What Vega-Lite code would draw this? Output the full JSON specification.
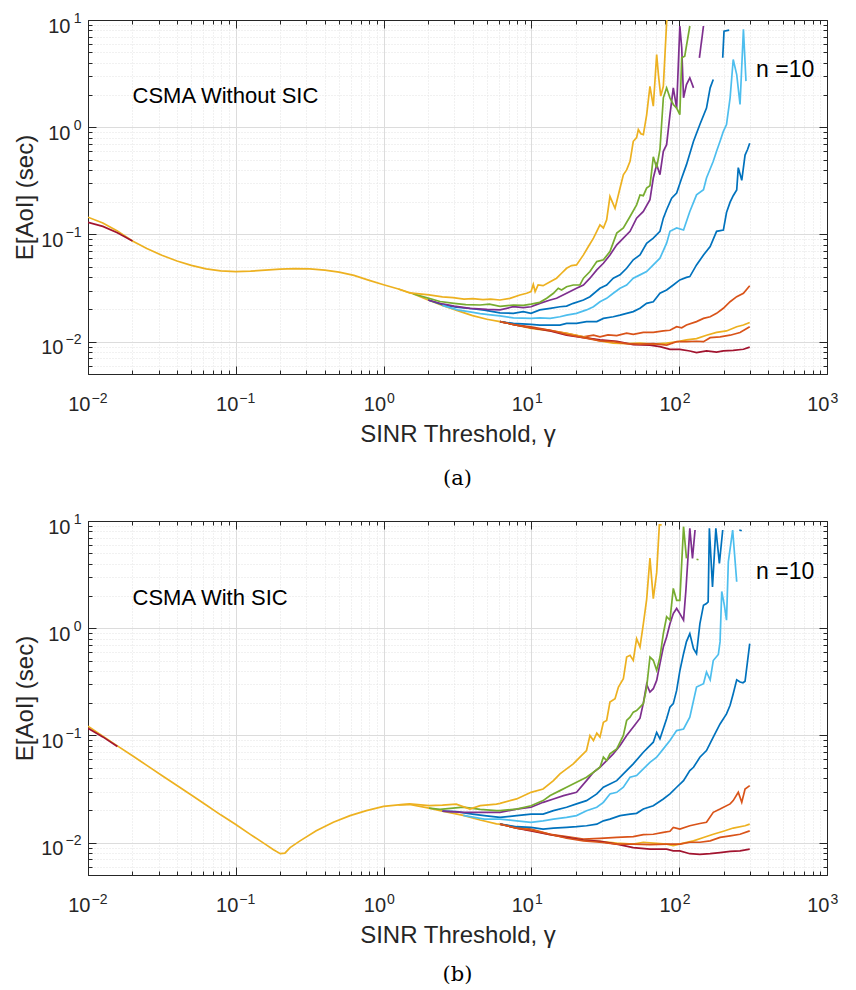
{
  "$schema": "https://vega.github.io/schema/vega-lite/v6.json",
  "padding": {"top": 10, "left": 13, "right": 0, "bottom": 0},
  "spacing": 21,
  "config": {
    "font": "Liberation Sans",
    "view": {"stroke": "#262626", "strokeWidth": 1},
    "axis": {"labelFont": "Liberation Sans", "labelFontSize": 20, "labelColor": "#262626", "titleFont": "Liberation Sans", "titleFontSize": 24, "titleFontWeight": "normal", "titleColor": "#262626", "domainColor": "#262626", "tickColor": "#262626", "labelOverlap": false, "labelFlush": false, "labelBound": false}
  },
  "datasets": {
    "a": [
      {"s":"c","x":0.01,"y":0.145},{"s":"c","x":0.0126,"y":0.128},{"s":"c","x":0.0158,"y":0.108},{"s":"c","x":0.02,"y":0.087},{"s":"c","x":0.025,"y":0.074},{"s":"c","x":0.0316,"y":0.064},{"s":"c","x":0.04,"y":0.0565},{"s":"c","x":0.05,"y":0.0515},{"s":"c","x":0.063,"y":0.0478},{"s":"c","x":0.079,"y":0.0458},{"s":"c","x":0.1,"y":0.045},{"s":"c","x":0.126,"y":0.0455},{"s":"c","x":0.158,"y":0.0465},{"s":"c","x":0.2,"y":0.0475},{"s":"c","x":0.25,"y":0.048},{"s":"c","x":0.316,"y":0.0478},{"s":"c","x":0.4,"y":0.0465},{"s":"c","x":0.5,"y":0.0445},{"s":"c","x":0.63,"y":0.0415},{"s":"c","x":0.79,"y":0.0375},{"s":"c","x":1.0,"y":0.034},{"s":"c","x":1.26,"y":0.031},{"s":"c","x":1.58,"y":0.028},{"s":"c","x":2.0,"y":0.0245},{"s":"c","x":2.5,"y":0.0218},{"s":"c","x":3.16,"y":0.0195},{"s":"c","x":4.0,"y":0.0175},{"s":"c","x":5.0,"y":0.0162},{"s":"c","x":6.13,"y":0.0154},
      {"s":"s01","x":2.0,"y":0.0245},{"s":"s01","x":2.5,"y":0.0222},{"s":"s01","x":3.1,"y":0.021},{"s":"s01","x":4.0,"y":0.0203},{"s":"s01","x":4.8,"y":0.0197},{"s":"s01","x":6.13,"y":0.0186},{"s":"s01","x":7.55,"y":0.0184},{"s":"s01","x":8.81,"y":0.0191},{"s":"s01","x":9.94,"y":0.0184},{"s":"s01","x":11.4,"y":0.0198},{"s":"s01","x":13.4,"y":0.0205},{"s":"s01","x":15.6,"y":0.0212},{"s":"s01","x":17.3,"y":0.0215},{"s":"s01","x":19.2,"y":0.0228},{"s":"s01","x":22.5,"y":0.0245},{"s":"s01","x":24.9,"y":0.0263},{"s":"s01","x":29.1,"y":0.0315},{"s":"s01","x":32.3,"y":0.0338},{"s":"s01","x":35.8,"y":0.0391},{"s":"s01","x":39.8,"y":0.042},{"s":"s01","x":44.1,"y":0.0484},{"s":"s01","x":48.9,"y":0.058},{"s":"s01","x":54.3,"y":0.0645},{"s":"s01","x":60.2,"y":0.0829},{"s":"s01","x":66.8,"y":0.0923},{"s":"s01","x":74.1,"y":0.107},{"s":"s01","x":78.1,"y":0.142},{"s":"s01","x":82.2,"y":0.17},{"s":"s01","x":88.9,"y":0.218},{"s":"s01","x":96.1,"y":0.243},{"s":"s01","x":104,"y":0.336},{"s":"s01","x":112,"y":0.448},{"s":"s01","x":125,"y":0.74},{"s":"s01","x":138,"y":1.06},{"s":"s01","x":153,"y":1.51},{"s":"s01","x":162,"y":2.33},{"s":"s01","x":170,"y":2.79},
      {"s":"s01","g":2,"x":197,"y":4.44},{"s":"s01","g":2,"x":201,"y":7.88},{"s":"s01","g":2,"x":218,"y":8.05},
      {"s":"s02","x":6.13,"y":0.0154},{"s":"s02","x":7.95,"y":0.0143},{"s":"s02","x":9.94,"y":0.0138},{"s":"s02","x":13.4,"y":0.0128},{"s":"s02","x":17.3,"y":0.012},{"s":"s02","x":22.5,"y":0.0111},{"s":"s02","x":26.3,"y":0.0115},{"s":"s02","x":29.1,"y":0.0111},{"s":"s02","x":33,"y":0.0116},{"s":"s02","x":37.8,"y":0.0114},{"s":"s02","x":44.1,"y":0.012},{"s":"s02","x":48.9,"y":0.0117},{"s":"s02","x":57.2,"y":0.0122},{"s":"s02","x":66.8,"y":0.0122},{"s":"s02","x":78.1,"y":0.0126},{"s":"s02","x":86.6,"y":0.0128},{"s":"s02","x":96.1,"y":0.0138},{"s":"s02","x":104,"y":0.0135},{"s":"s02","x":112,"y":0.0143},{"s":"s02","x":131,"y":0.0154},{"s":"s02","x":146,"y":0.0165},{"s":"s02","x":162,"y":0.0171},{"s":"s02","x":179,"y":0.0184},{"s":"s02","x":199,"y":0.0205},{"s":"s02","x":221,"y":0.0236},{"s":"s02","x":245,"y":0.0263},{"s":"s02","x":272,"y":0.0283},{"s":"s02","x":300,"y":0.0333},
      {"s":"s03","x":6.13,"y":0.0154},{"s":"s03","x":7.95,"y":0.0143},{"s":"s03","x":9.94,"y":0.0133},{"s":"s03","x":13.4,"y":0.0126},{"s":"s03","x":17.3,"y":0.012},{"s":"s03","x":22.5,"y":0.0111},{"s":"s03","x":29.1,"y":0.0102},{"s":"s03","x":35.8,"y":0.0097},{"s":"s03","x":44.1,"y":0.0096},{"s":"s03","x":54.3,"y":0.0097},{"s":"s03","x":66.8,"y":0.0095},{"s":"s03","x":82.2,"y":0.0097},{"s":"s03","x":96.1,"y":0.01},{"s":"s03","x":112,"y":0.0104},{"s":"s03","x":131,"y":0.0107},{"s":"s03","x":153,"y":0.0115},{"s":"s03","x":179,"y":0.0122},{"s":"s03","x":209,"y":0.0126},{"s":"s03","x":245,"y":0.0138},{"s":"s03","x":272,"y":0.0143},{"s":"s03","x":300,"y":0.0151},
      {"s":"s04","x":2.0,"y":0.0245},{"s":"s04","x":2.5,"y":0.0225},{"s":"s04","x":3.0,"y":0.0215},{"s":"s04","x":3.84,"y":0.0205},{"s":"s04","x":5.0,"y":0.02},{"s":"s04","x":6.13,"y":0.0198},{"s":"s04","x":7.55,"y":0.0212},{"s":"s04","x":8.81,"y":0.0208},{"s":"s04","x":9.94,"y":0.0212},{"s":"s04","x":11.4,"y":0.0228},{"s":"s04","x":13.4,"y":0.0245},{"s":"s04","x":14.8,"y":0.0254},{"s":"s04","x":17.3,"y":0.0283},{"s":"s04","x":20.2,"y":0.0315},{"s":"s04","x":22.5,"y":0.0338},{"s":"s04","x":24.9,"y":0.0391},{"s":"s04","x":27.7,"y":0.0467},{"s":"s04","x":30.7,"y":0.0539},{"s":"s04","x":34.0,"y":0.0645},{"s":"s04","x":37.8,"y":0.08},{"s":"s04","x":41.9,"y":0.0923},{"s":"s04","x":46.5,"y":0.107},{"s":"s04","x":51.5,"y":0.142},{"s":"s04","x":57.2,"y":0.164},{"s":"s04","x":63.4,"y":0.211},{"s":"s04","x":66.8,"y":0.336},{"s":"s04","x":70.4,"y":0.448},{"s":"s04","x":74.1,"y":0.361},{"s":"s04","x":78.1,"y":0.596},{"s":"s04","x":82.2,"y":0.688},{"s":"s04","x":86.6,"y":1.31},{"s":"s04","x":91.2,"y":2.33},{"s":"s04","x":96.1,"y":1.51},{"s":"s04","x":101,"y":8.79},{"s":"s04","x":104,"y":5.51},{"s":"s04","x":107,"y":1.88},{"s":"s04","x":112,"y":2.5},{"s":"s04","x":118,"y":2.89},{"s":"s04","x":125,"y":2.33},
      {"s":"s04","g":2,"x":137,"y":4.44},{"s":"s04","g":2,"x":146,"y":8.79},
      {"s":"s05","x":1.58,"y":0.028},{"s":"s05","x":2.0,"y":0.0255},{"s":"s05","x":2.41,"y":0.0237},{"s":"s05","x":3.0,"y":0.0228},{"s":"s05","x":3.6,"y":0.0222},{"s":"s05","x":4.49,"y":0.022},{"s":"s05","x":5.2,"y":0.0224},{"s":"s05","x":6.13,"y":0.0214},{"s":"s05","x":7.55,"y":0.022},{"s":"s05","x":8.81,"y":0.0218},{"s":"s05","x":9.94,"y":0.0224},{"s":"s05","x":11.4,"y":0.0233},{"s":"s05","x":12.7,"y":0.0254},{"s":"s05","x":14.1,"y":0.0283},{"s":"s05","x":15.2,"y":0.0315},{"s":"s05","x":16.0,"y":0.0304},{"s":"s05","x":17.3,"y":0.0326},{"s":"s05","x":19.2,"y":0.0338},{"s":"s05","x":21.3,"y":0.0338},{"s":"s05","x":22.5,"y":0.0391},{"s":"s05","x":24.9,"y":0.0451},{"s":"s05","x":27.7,"y":0.0559},{"s":"s05","x":30.7,"y":0.058},{"s":"s05","x":34.0,"y":0.0693},{"s":"s05","x":37.8,"y":0.103},{"s":"s05","x":41.9,"y":0.115},{"s":"s05","x":46.5,"y":0.147},{"s":"s05","x":51.5,"y":0.189},{"s":"s05","x":54.3,"y":0.234},{"s":"s05","x":57.2,"y":0.23},{"s":"s05","x":60.2,"y":0.271},{"s":"s05","x":63.4,"y":0.285},{"s":"s05","x":65.1,"y":0.388},{"s":"s05","x":66.8,"y":0.53},{"s":"s05","x":70.4,"y":0.42},{"s":"s05","x":74.1,"y":0.62},{"s":"s05","x":78.1,"y":1.88},{"s":"s05","x":82.2,"y":2.33},{"s":"s05","x":86.6,"y":1.88},{"s":"s05","x":91.2,"y":1.63},{"s":"s05","x":96.1,"y":1.51},{"s":"s05","x":101,"y":1.31},{"s":"s05","x":104,"y":4.44},{"s":"s05","x":109,"y":4.6},{"s":"s05","x":118,"y":8.79},
      {"s":"s06","x":2.5,"y":0.0218},{"s":"s06","x":3.16,"y":0.0198},{"s":"s06","x":3.84,"y":0.019},{"s":"s06","x":4.5,"y":0.0183},{"s":"s06","x":5.3,"y":0.0178},{"s":"s06","x":6.13,"y":0.0174},{"s":"s06","x":7.55,"y":0.0167},{"s":"s06","x":9.94,"y":0.0165},{"s":"s06","x":11.4,"y":0.0167},{"s":"s06","x":13.4,"y":0.0165},{"s":"s06","x":15.6,"y":0.0171},{"s":"s06","x":17.3,"y":0.0177},{"s":"s06","x":20.2,"y":0.0184},{"s":"s06","x":23.6,"y":0.0198},{"s":"s06","x":26.3,"y":0.0212},{"s":"s06","x":29.1,"y":0.0236},{"s":"s06","x":32.3,"y":0.0254},{"s":"s06","x":35.8,"y":0.0283},{"s":"s06","x":39.8,"y":0.0315},{"s":"s06","x":44.1,"y":0.0338},{"s":"s06","x":48.9,"y":0.0391},{"s":"s06","x":54.3,"y":0.042},{"s":"s06","x":60.2,"y":0.0451},{"s":"s06","x":66.8,"y":0.052},{"s":"s06","x":74.1,"y":0.0601},{"s":"s06","x":82.2,"y":0.0829},{"s":"s06","x":86.6,"y":0.107},{"s":"s06","x":96.1,"y":0.115},{"s":"s06","x":107,"y":0.11},{"s":"s06","x":118,"y":0.164},{"s":"s06","x":131,"y":0.234},{"s":"s06","x":146,"y":0.261},{"s":"s06","x":153,"y":0.336},{"s":"s06","x":170,"y":0.481},{"s":"s06","x":179,"y":0.596},{"s":"s06","x":189,"y":0.74},{"s":"s06","x":199,"y":0.917},{"s":"s06","x":209,"y":1.06},{"s":"s06","x":221,"y":1.88},{"s":"s06","x":232,"y":4.28},{"s":"s06","x":245,"y":3.1},{"s":"s06","x":258,"y":1.63},{"s":"s06","x":272,"y":8.17},{"s":"s06","x":283,"y":2.69},
      {"s":"s07","g":1,"x":0.01,"y":0.13},{"s":"s07","g":1,"x":0.0126,"y":0.119},{"s":"s07","g":1,"x":0.0158,"y":0.104},{"s":"s07","g":1,"x":0.02,"y":0.087},
      {"s":"s07","x":6.13,"y":0.0154},{"s":"s07","x":7.95,"y":0.0143},{"s":"s07","x":9.94,"y":0.0135},{"s":"s07","x":13.4,"y":0.0126},{"s":"s07","x":17.3,"y":0.0115},{"s":"s07","x":22.5,"y":0.0109},{"s":"s07","x":29.1,"y":0.0104},{"s":"s07","x":37.8,"y":0.0101},{"s":"s07","x":48.9,"y":0.0094},{"s":"s07","x":63.4,"y":0.0093},{"s":"s07","x":74.1,"y":0.009},{"s":"s07","x":86.6,"y":0.0085},{"s":"s07","x":101,"y":0.0085},{"s":"s07","x":118,"y":0.0082},{"s":"s07","x":131,"y":0.0079},{"s":"s07","x":153,"y":0.0082},{"s":"s07","x":179,"y":0.008},{"s":"s07","x":199,"y":0.0082},{"s":"s07","x":232,"y":0.0083},{"s":"s07","x":272,"y":0.0085},{"s":"s07","x":300,"y":0.0089},
      {"s":"s08","x":6.13,"y":0.0154},{"s":"s08","x":7.55,"y":0.0148},{"s":"s08","x":9.94,"y":0.0145},{"s":"s08","x":11.4,"y":0.0143},{"s":"s08","x":13.4,"y":0.0143},{"s":"s08","x":15.6,"y":0.0143},{"s":"s08","x":17.3,"y":0.0148},{"s":"s08","x":20.2,"y":0.0148},{"s":"s08","x":23.6,"y":0.0154},{"s":"s08","x":27.7,"y":0.0154},{"s":"s08","x":30.7,"y":0.0165},{"s":"s08","x":35.8,"y":0.0171},{"s":"s08","x":39.8,"y":0.0177},{"s":"s08","x":44.1,"y":0.0184},{"s":"s08","x":48.9,"y":0.0191},{"s":"s08","x":54.3,"y":0.0205},{"s":"s08","x":60.2,"y":0.0228},{"s":"s08","x":66.8,"y":0.0236},{"s":"s08","x":74.1,"y":0.0283},{"s":"s08","x":82.2,"y":0.0304},{"s":"s08","x":91.2,"y":0.0338},{"s":"s08","x":101,"y":0.0377},{"s":"s08","x":112,"y":0.0398},{"s":"s08","x":118,"y":0.0405},{"s":"s08","x":131,"y":0.052},{"s":"s08","x":146,"y":0.0645},{"s":"s08","x":162,"y":0.0772},{"s":"s08","x":179,"y":0.107},{"s":"s08","x":199,"y":0.11},{"s":"s08","x":209,"y":0.16},{"s":"s08","x":221,"y":0.2},{"s":"s08","x":232,"y":0.23},{"s":"s08","x":245,"y":0.26},{"s":"s08","x":251,"y":0.42},{"s":"s08","x":265,"y":0.32},{"s":"s08","x":279,"y":0.55},{"s":"s08","x":290,"y":0.62},{"s":"s08","x":300,"y":0.71},
      {"s":"s09","x":6.13,"y":0.0154},{"s":"s09","x":7.95,"y":0.0143},{"s":"s09","x":9.94,"y":0.0135},{"s":"s09","x":13.4,"y":0.0128},{"s":"s09","x":17.3,"y":0.0117},{"s":"s09","x":22.5,"y":0.0109},{"s":"s09","x":29.1,"y":0.0102},{"s":"s09","x":35.8,"y":0.01},{"s":"s09","x":44.1,"y":0.0096},{"s":"s09","x":54.3,"y":0.0095},{"s":"s09","x":66.8,"y":0.0096},{"s":"s09","x":82.2,"y":0.0093},{"s":"s09","x":96.1,"y":0.01},{"s":"s09","x":112,"y":0.01},{"s":"s09","x":131,"y":0.0101},{"s":"s09","x":146,"y":0.01},{"s":"s09","x":162,"y":0.0109},{"s":"s09","x":189,"y":0.0111},{"s":"s09","x":221,"y":0.0115},{"s":"s09","x":258,"y":0.0122},{"s":"s09","x":300,"y":0.0138},
      {"s":"s10","x":1.26,"y":0.031},{"s":"s10","x":1.5,"y":0.0285},{"s":"s10","x":2.03,"y":0.0273},{"s":"s10","x":2.5,"y":0.0262},{"s":"s10","x":2.95,"y":0.0258},{"s":"s10","x":3.5,"y":0.025},{"s":"s10","x":4.0,"y":0.0252},{"s":"s10","x":4.7,"y":0.0247},{"s":"s10","x":5.3,"y":0.025},{"s":"s10","x":6.13,"y":0.0245},{"s":"s10","x":7.16,"y":0.0254},{"s":"s10","x":8.37,"y":0.0273},{"s":"s10","x":9.29,"y":0.0283},{"s":"s10","x":9.94,"y":0.0293},{"s":"s10","x":10.3,"y":0.0343},{"s":"s10","x":10.6,"y":0.0293},{"s":"s10","x":11.1,"y":0.0338},{"s":"s10","x":12.0,"y":0.0333},{"s":"s10","x":13.4,"y":0.0363},{"s":"s10","x":14.8,"y":0.0391},{"s":"s10","x":16.0,"y":0.0435},{"s":"s10","x":17.3,"y":0.0484},{"s":"s10","x":18.7,"y":0.0513},{"s":"s10","x":20.2,"y":0.052},{"s":"s10","x":22.5,"y":0.0645},{"s":"s10","x":24.3,"y":0.0772},{"s":"s10","x":26.3,"y":0.0923},{"s":"s10","x":29.1,"y":0.123},{"s":"s10","x":30.7,"y":0.115},{"s":"s10","x":32.3,"y":0.137},{"s":"s10","x":34.0,"y":0.226},{"s":"s10","x":36.8,"y":0.175},{"s":"s10","x":39.8,"y":0.271},{"s":"s10","x":41.9,"y":0.36},{"s":"s10","x":44.1,"y":0.4},{"s":"s10","x":46.5,"y":0.481},{"s":"s10","x":48.9,"y":0.74},{"s":"s10","x":51.5,"y":0.8},{"s":"s10","x":52.9,"y":0.951},{"s":"s10","x":55,"y":0.87},{"s":"s10","x":57.2,"y":0.853},{"s":"s10","x":60.2,"y":1.3},{"s":"s10","x":63.4,"y":2.41},{"s":"s10","x":66.8,"y":1.57},{"s":"s10","x":70.4,"y":4.77},{"s":"s10","x":72.5,"y":3.0},{"s":"s10","x":75.0,"y":1.95},{"s":"s10","x":78.1,"y":2.41},{"s":"s10","x":82.2,"y":9.44},{"s":"s10","x":83.5,"y":12.1}
    ],
    "b": [
      {"s":"c","x":0.01,"y":0.122},{"s":"c","x":0.0126,"y":0.0987},{"s":"c","x":0.0158,"y":0.08},{"s":"c","x":0.02,"y":0.0646},{"s":"c","x":0.025,"y":0.0526},{"s":"c","x":0.0316,"y":0.0424},{"s":"c","x":0.04,"y":0.0342},{"s":"c","x":0.05,"y":0.0279},{"s":"c","x":0.063,"y":0.0225},{"s":"c","x":0.079,"y":0.0182},{"s":"c","x":0.1,"y":0.0148},{"s":"c","x":0.126,"y":0.0119},{"s":"c","x":0.158,"y":0.0097},{"s":"c","x":0.18,"y":0.0086},{"s":"c","x":0.2,"y":0.0079},{"s":"c","x":0.215,"y":0.008},{"s":"c","x":0.233,"y":0.009},{"s":"c","x":0.272,"y":0.0104},{"s":"c","x":0.35,"y":0.0129},{"s":"c","x":0.457,"y":0.0155},{"s":"c","x":0.593,"y":0.0179},{"s":"c","x":0.765,"y":0.0199},{"s":"c","x":1.0,"y":0.0218},{"s":"c","x":1.26,"y":0.0225},{"s":"c","x":1.5,"y":0.0227},{"s":"c","x":2.03,"y":0.021},{"s":"c","x":2.5,"y":0.0197},{"s":"c","x":3.46,"y":0.018},{"s":"c","x":4.5,"y":0.0163},{"s":"c","x":5.8,"y":0.015},{"s":"c","x":6.13,"y":0.0149},
      {"s":"s01","x":2.5,"y":0.0197},{"s":"s01","x":3.1,"y":0.0195},{"s":"s01","x":4.0,"y":0.0185},{"s":"s01","x":4.8,"y":0.0179},{"s":"s01","x":6.13,"y":0.0172},{"s":"s01","x":7.95,"y":0.0179},{"s":"s01","x":9.94,"y":0.0185},{"s":"s01","x":12.0,"y":0.0185},{"s":"s01","x":14.1,"y":0.0199},{"s":"s01","x":17.3,"y":0.0214},{"s":"s01","x":20.2,"y":0.023},{"s":"s01","x":23.6,"y":0.0247},{"s":"s01","x":27.7,"y":0.0285},{"s":"s01","x":30.7,"y":0.0329},{"s":"s01","x":34.0,"y":0.0353},{"s":"s01","x":37.8,"y":0.0379},{"s":"s01","x":41.9,"y":0.0438},{"s":"s01","x":48.9,"y":0.0543},{"s":"s01","x":57.2,"y":0.0698},{"s":"s01","x":66.8,"y":0.0866},{"s":"s01","x":70.4,"y":0.107},{"s":"s01","x":74.1,"y":0.0931},{"s":"s01","x":82.2,"y":0.143},{"s":"s01","x":86.6,"y":0.184},{"s":"s01","x":91.2,"y":0.198},{"s":"s01","x":96.1,"y":0.263},{"s":"s01","x":101,"y":0.4},{"s":"s01","x":107,"y":0.579},{"s":"s01","x":112,"y":0.75},{"s":"s01","x":118,"y":0.891},{"s":"s01","x":125,"y":0.645},{"s":"s01","x":131,"y":0.579},{"s":"s01","x":138,"y":1.1},{"s":"s01","x":146,"y":1.64},{"s":"s01","x":153,"y":1.7},{"s":"s01","x":157,"y":1.76},{"s":"s01","x":160,"y":8.54},{"s":"s01","x":168,"y":2.43},{"s":"s01","x":177,"y":8.54},{"s":"s01","x":187,"y":4.02},{"s":"s01","x":197,"y":8.24},
      {"s":"s01","g":2,"x":255,"y":8.24},{"s":"s01","g":2,"x":265,"y":8.12},
      {"s":"s02","x":6.13,"y":0.0149},{"s":"s02","x":7.95,"y":0.0139},{"s":"s02","x":9.94,"y":0.0134},{"s":"s02","x":13.4,"y":0.012},{"s":"s02","x":17.3,"y":0.0114},{"s":"s02","x":22.5,"y":0.0108},{"s":"s02","x":29.1,"y":0.011},{"s":"s02","x":37.8,"y":0.0112},{"s":"s02","x":48.9,"y":0.0114},{"s":"s02","x":57.2,"y":0.0119},{"s":"s02","x":66.8,"y":0.012},{"s":"s02","x":78.1,"y":0.0125},{"s":"s02","x":86.6,"y":0.0128},{"s":"s02","x":91.2,"y":0.0139},{"s":"s02","x":101,"y":0.0134},{"s":"s02","x":118,"y":0.0144},{"s":"s02","x":138,"y":0.0151},{"s":"s02","x":153,"y":0.0155},{"s":"s02","x":170,"y":0.0192},{"s":"s02","x":189,"y":0.0206},{"s":"s02","x":221,"y":0.023},{"s":"s02","x":232,"y":0.0247},{"s":"s02","x":251,"y":0.0295},{"s":"s02","x":265,"y":0.0238},{"s":"s02","x":279,"y":0.0317},{"s":"s02","x":300,"y":0.0341},
      {"s":"s03","x":6.13,"y":0.0149},{"s":"s03","x":7.95,"y":0.0137},{"s":"s03","x":9.94,"y":0.0131},{"s":"s03","x":13.4,"y":0.0119},{"s":"s03","x":17.3,"y":0.0112},{"s":"s03","x":22.5,"y":0.0106},{"s":"s03","x":29.1,"y":0.0103},{"s":"s03","x":37.8,"y":0.0099},{"s":"s03","x":48.9,"y":0.0097},{"s":"s03","x":57.2,"y":0.0101},{"s":"s03","x":66.8,"y":0.0099},{"s":"s03","x":82.2,"y":0.0097},{"s":"s03","x":91.2,"y":0.0094},{"s":"s03","x":107,"y":0.0099},{"s":"s03","x":125,"y":0.0104},{"s":"s03","x":146,"y":0.0112},{"s":"s03","x":170,"y":0.012},{"s":"s03","x":199,"y":0.0128},{"s":"s03","x":232,"y":0.0137},{"s":"s03","x":279,"y":0.0144},{"s":"s03","x":300,"y":0.0149},
      {"s":"s04","x":2.5,"y":0.0197},{"s":"s04","x":3.46,"y":0.0192},{"s":"s04","x":4.5,"y":0.0192},{"s":"s04","x":5.8,"y":0.0192},{"s":"s04","x":6.13,"y":0.0192},{"s":"s04","x":7.95,"y":0.0206},{"s":"s04","x":9.94,"y":0.0214},{"s":"s04","x":12.0,"y":0.0238},{"s":"s04","x":14.1,"y":0.0256},{"s":"s04","x":16.5,"y":0.0275},{"s":"s04","x":20.2,"y":0.0295},{"s":"s04","x":23.6,"y":0.0379},{"s":"s04","x":26.3,"y":0.0454},{"s":"s04","x":29.1,"y":0.0505},{"s":"s04","x":32.3,"y":0.0583},{"s":"s04","x":35.8,"y":0.0674},{"s":"s04","x":39.8,"y":0.0805},{"s":"s04","x":44.1,"y":0.1},{"s":"s04","x":48.9,"y":0.12},{"s":"s04","x":54.3,"y":0.145},{"s":"s04","x":57.2,"y":0.2},{"s":"s04","x":60.2,"y":0.3},{"s":"s04","x":63.4,"y":0.254},{"s":"s04","x":66.8,"y":0.273},{"s":"s04","x":70.4,"y":0.326},{"s":"s04","x":74.1,"y":0.467},{"s":"s04","x":78.1,"y":0.668},{"s":"s04","x":82.2,"y":0.83},{"s":"s04","x":86.6,"y":1.1},{"s":"s04","x":91.2,"y":1.37},{"s":"s04","x":96.1,"y":1.53},{"s":"s04","x":101,"y":1.37},{"s":"s04","x":107,"y":1.19},{"s":"s04","x":111,"y":2.26},{"s":"s04","x":118,"y":8.54},{"s":"s04","x":123,"y":4.48},{"s":"s04","x":128,"y":8.24},
      {"s":"s05","x":2.03,"y":0.021},{"s":"s05","x":2.41,"y":0.0205},{"s":"s05","x":3.46,"y":0.0215},{"s":"s05","x":4.5,"y":0.0205},{"s":"s05","x":5.8,"y":0.0199},{"s":"s05","x":6.13,"y":0.0199},{"s":"s05","x":7.95,"y":0.0206},{"s":"s05","x":9.94,"y":0.0221},{"s":"s05","x":12.0,"y":0.0247},{"s":"s05","x":13.4,"y":0.0275},{"s":"s05","x":15.6,"y":0.0306},{"s":"s05","x":17.3,"y":0.0329},{"s":"s05","x":20.2,"y":0.0366},{"s":"s05","x":23.6,"y":0.0408},{"s":"s05","x":26.3,"y":0.0454},{"s":"s05","x":29.1,"y":0.0505},{"s":"s05","x":30.7,"y":0.0627},{"s":"s05","x":32.3,"y":0.0583},{"s":"s05","x":34.0,"y":0.0674},{"s":"s05","x":37.8,"y":0.075},{"s":"s05","x":41.9,"y":0.1},{"s":"s05","x":44.1,"y":0.138},{"s":"s05","x":46.5,"y":0.148},{"s":"s05","x":48.9,"y":0.165},{"s":"s05","x":51.5,"y":0.171},{"s":"s05","x":54.3,"y":0.184},{"s":"s05","x":57.2,"y":0.198},{"s":"s05","x":60.2,"y":0.28},{"s":"s05","x":63.4,"y":0.539},{"s":"s05","x":66.8,"y":0.502},{"s":"s05","x":70.4,"y":0.405},{"s":"s05","x":74.1,"y":0.539},{"s":"s05","x":78.1,"y":0.891},{"s":"s05","x":82.2,"y":1.28},{"s":"s05","x":86.6,"y":1.19},{"s":"s05","x":91.2,"y":2.35},{"s":"s05","x":96.1,"y":1.82},{"s":"s05","x":101,"y":1.82},{"s":"s05","x":107,"y":8.85},{"s":"s05","x":112,"y":4.48},
      {"s":"s05","g":2,"x":131,"y":4.4},{"s":"s05","g":2,"x":135,"y":4.35},
      {"s":"s06","x":3.46,"y":0.018},{"s":"s06","x":4.8,"y":0.0166},{"s":"s06","x":6.13,"y":0.0166},{"s":"s06","x":7.95,"y":0.016},{"s":"s06","x":9.94,"y":0.0155},{"s":"s06","x":12.0,"y":0.016},{"s":"s06","x":14.1,"y":0.0166},{"s":"s06","x":17.3,"y":0.0172},{"s":"s06","x":20.2,"y":0.0179},{"s":"s06","x":23.6,"y":0.0199},{"s":"s06","x":27.7,"y":0.0214},{"s":"s06","x":30.7,"y":0.0238},{"s":"s06","x":34.0,"y":0.0285},{"s":"s06","x":37.8,"y":0.0295},{"s":"s06","x":41.9,"y":0.0329},{"s":"s06","x":46.5,"y":0.0408},{"s":"s06","x":51.5,"y":0.0423},{"s":"s06","x":57.2,"y":0.0488},{"s":"s06","x":63.4,"y":0.0562},{"s":"s06","x":70.4,"y":0.0627},{"s":"s06","x":78.1,"y":0.075},{"s":"s06","x":86.6,"y":0.0898},{"s":"s06","x":96.1,"y":0.111},{"s":"s06","x":107,"y":0.115},{"s":"s06","x":118,"y":0.148},{"s":"s06","x":131,"y":0.283},{"s":"s06","x":146,"y":0.304},{"s":"s06","x":153,"y":0.391},{"s":"s06","x":162,"y":0.33},{"s":"s06","x":170,"y":0.5},{"s":"s06","x":184,"y":0.57},{"s":"s06","x":189,"y":0.75},{"s":"s06","x":194,"y":2.2},{"s":"s06","x":202,"y":1.64},{"s":"s06","x":209,"y":1.19},{"s":"s06","x":215,"y":4.17},{"s":"s06","x":230,"y":8.24},{"s":"s06","x":245,"y":2.71},
      {"s":"s07","g":1,"x":0.01,"y":0.117},{"s":"s07","g":1,"x":0.0126,"y":0.097},{"s":"s07","g":1,"x":0.0158,"y":0.079},
      {"s":"s07","x":6.13,"y":0.0149},{"s":"s07","x":7.95,"y":0.0137},{"s":"s07","x":9.94,"y":0.0129},{"s":"s07","x":13.4,"y":0.0119},{"s":"s07","x":17.3,"y":0.0112},{"s":"s07","x":22.5,"y":0.0106},{"s":"s07","x":29.1,"y":0.0103},{"s":"s07","x":37.8,"y":0.0097},{"s":"s07","x":48.9,"y":0.009},{"s":"s07","x":63.4,"y":0.0087},{"s":"s07","x":82.2,"y":0.0087},{"s":"s07","x":91.2,"y":0.0084},{"s":"s07","x":101,"y":0.0084},{"s":"s07","x":118,"y":0.0079},{"s":"s07","x":138,"y":0.0078},{"s":"s07","x":162,"y":0.0079},{"s":"s07","x":189,"y":0.0081},{"s":"s07","x":221,"y":0.0083},{"s":"s07","x":258,"y":0.0084},{"s":"s07","x":300,"y":0.0087},
      {"s":"s08","x":6.13,"y":0.0149},{"s":"s08","x":7.95,"y":0.0141},{"s":"s08","x":9.94,"y":0.0139},{"s":"s08","x":12.0,"y":0.0134},{"s":"s08","x":14.1,"y":0.0137},{"s":"s08","x":17.3,"y":0.0139},{"s":"s08","x":20.2,"y":0.0141},{"s":"s08","x":23.6,"y":0.0144},{"s":"s08","x":27.7,"y":0.0149},{"s":"s08","x":30.7,"y":0.016},{"s":"s08","x":34.0,"y":0.0166},{"s":"s08","x":39.8,"y":0.0179},{"s":"s08","x":46.5,"y":0.0185},{"s":"s08","x":51.5,"y":0.0188},{"s":"s08","x":57.2,"y":0.0206},{"s":"s08","x":66.8,"y":0.0221},{"s":"s08","x":78.1,"y":0.0256},{"s":"s08","x":86.6,"y":0.0285},{"s":"s08","x":96.1,"y":0.0329},{"s":"s08","x":107,"y":0.0379},{"s":"s08","x":118,"y":0.0471},{"s":"s08","x":125,"y":0.0505},{"s":"s08","x":138,"y":0.0627},{"s":"s08","x":153,"y":0.0724},{"s":"s08","x":170,"y":0.0965},{"s":"s08","x":189,"y":0.128},{"s":"s08","x":209,"y":0.159},{"s":"s08","x":221,"y":0.191},{"s":"s08","x":232,"y":0.245},{"s":"s08","x":245,"y":0.33},{"s":"s08","x":258,"y":0.315},{"s":"s08","x":270,"y":0.31},{"s":"s08","x":279,"y":0.32},{"s":"s08","x":300,"y":0.72},
      {"s":"s09","x":6.13,"y":0.0149},{"s":"s09","x":7.95,"y":0.0137},{"s":"s09","x":9.94,"y":0.0131},{"s":"s09","x":13.4,"y":0.012},{"s":"s09","x":17.3,"y":0.011},{"s":"s09","x":22.5,"y":0.0104},{"s":"s09","x":29.1,"y":0.0101},{"s":"s09","x":37.8,"y":0.0097},{"s":"s09","x":48.9,"y":0.0097},{"s":"s09","x":63.4,"y":0.0096},{"s":"s09","x":82.2,"y":0.0097},{"s":"s09","x":101,"y":0.0097},{"s":"s09","x":118,"y":0.0101},{"s":"s09","x":138,"y":0.0101},{"s":"s09","x":162,"y":0.0104},{"s":"s09","x":189,"y":0.0112},{"s":"s09","x":221,"y":0.0116},{"s":"s09","x":258,"y":0.012},{"s":"s09","x":300,"y":0.0129},
      {"s":"s10","x":1.26,"y":0.0225},{"s":"s10","x":1.5,"y":0.023},{"s":"s10","x":2.03,"y":0.0222},{"s":"s10","x":2.5,"y":0.0224},{"s":"s10","x":3.1,"y":0.0229},{"s":"s10","x":3.84,"y":0.0206},{"s":"s10","x":4.5,"y":0.0222},{"s":"s10","x":5.8,"y":0.0229},{"s":"s10","x":6.13,"y":0.0233},{"s":"s10","x":7.95,"y":0.0256},{"s":"s10","x":9.94,"y":0.0295},{"s":"s10","x":12.0,"y":0.0317},{"s":"s10","x":14.1,"y":0.0379},{"s":"s10","x":15.6,"y":0.0438},{"s":"s10","x":17.3,"y":0.0488},{"s":"s10","x":19.2,"y":0.0543},{"s":"s10","x":21.3,"y":0.0627},{"s":"s10","x":23.6,"y":0.0724},{"s":"s10","x":24.9,"y":0.1},{"s":"s10","x":26.3,"y":0.0898},{"s":"s10","x":27.7,"y":0.105},{"s":"s10","x":29.1,"y":0.0965},{"s":"s10","x":30.7,"y":0.133},{"s":"s10","x":32.3,"y":0.138},{"s":"s10","x":34.0,"y":0.205},{"s":"s10","x":36.8,"y":0.22},{"s":"s10","x":38.8,"y":0.283},{"s":"s10","x":41.9,"y":0.338},{"s":"s10","x":44.1,"y":0.539},{"s":"s10","x":46.5,"y":0.559},{"s":"s10","x":48.9,"y":0.502},{"s":"s10","x":51.5,"y":0.8},{"s":"s10","x":54.3,"y":0.668},{"s":"s10","x":57.2,"y":1.1},{"s":"s10","x":60.2,"y":1.85},{"s":"s10","x":63.4,"y":4.5},{"s":"s10","x":66.8,"y":1.89},{"s":"s10","x":70.4,"y":3.3},{"s":"s10","x":73.4,"y":9.2},{"s":"s10","x":76.1,"y":9.2}
    ]
  },
  "vconcat": [
    {
      "width": 739, "height": 354,
      "title": {"text": "(a)", "orient": "bottom", "font": "DejaVu Serif", "fontSize": 21, "fontWeight": "normal", "color": "#000000", "offset": 22},
      "layer": [
        {
          "data": {"name": "a"},
          "mark": {"type": "line", "clip": true, "strokeWidth": 1.7},
          "encoding": {
            "x": {"field": "x", "type": "quantitative", "scale": {"type": "log", "domain": [0.01, 1000], "nice": false},
              "axis": {"orient": "bottom", "values": [0.01,0.02,0.03,0.04,0.05,0.06,0.07,0.08,0.09,0.1,0.2,0.3,0.4,0.5,0.6,0.7,0.8,0.9,1,2,3,4,5,6,7,8,9,10,20,30,40,50,60,70,80,90,100,200,300,400,500,600,700,800,900,1000],
                "labelExpr": "abs(log(datum.value)/LN10-round(log(datum.value)/LN10))<0.001 ? '10' : ''",
                "labelAlign": "right", "labelBaseline": "alphabetic", "labelOffset": 2, "labelPadding": 44,
                "grid": true,
                "gridColor": {"condition": {"test": "abs(log(datum.value)/LN10-round(log(datum.value)/LN10))<0.001", "value": "#dcdcdc"}, "value": "#e2e2e2"},
                "gridDash": {"condition": {"test": "abs(log(datum.value)/LN10-round(log(datum.value)/LN10))<0.001", "value": []}, "value": [1, 2]},
                "tickSize": {"condition": {"test": "abs(log(datum.value)/LN10-round(log(datum.value)/LN10))<0.001", "value": -8}, "value": -4},
                "title": "SINR Threshold, γ", "titlePadding": 4}},
            "y": {"field": "y", "type": "quantitative", "scale": {"type": "log", "domain": [0.005, 10], "nice": false},
              "axis": {"orient": "left", "values": [0.005,0.006,0.007,0.008,0.009,0.01,0.02,0.03,0.04,0.05,0.06,0.07,0.08,0.09,0.1,0.2,0.3,0.4,0.5,0.6,0.7,0.8,0.9,1,2,3,4,5,6,7,8,9,10],
                "labelExpr": "abs(log(datum.value)/LN10-round(log(datum.value)/LN10))<0.001 ? '10' : ''",
                "labelAlign": "right", "labelBaseline": "middle", "labelOffset": 6,
                "labelPadding": {"condition": {"test": "datum.value < 0.5", "value": 33}, "value": 26},
                "grid": true,
                "gridColor": {"condition": {"test": "abs(log(datum.value)/LN10-round(log(datum.value)/LN10))<0.001", "value": "#dcdcdc"}, "value": "#e2e2e2"},
                "gridDash": {"condition": {"test": "abs(log(datum.value)/LN10-round(log(datum.value)/LN10))<0.001", "value": []}, "value": [1, 2]},
                "tickSize": {"condition": {"test": "abs(log(datum.value)/LN10-round(log(datum.value)/LN10))<0.001", "value": -8}, "value": -4},
                "title": "E[AoI] (sec)", "titlePadding": 3}},
            "color": {"field": "s", "type": "nominal", "legend": null,
              "scale": {"domain": ["c","s01","s02","s03","s04","s05","s06","s07","s08","s09","s10"], "range": ["#EDB120","#0072BD","#D95319","#EDB120","#7E2F8E","#77AC30","#4DBEEE","#A2142F","#0072BD","#D95319","#EDB120"]}},
            "detail": {"field": "g", "type": "nominal"}
          }
        },
        {
          "data": {"values": [{"x": 0.02, "y": 1.96, "t": "CSMA Without SIC", "f": 22}, {"x": 331, "y": 3.44, "t": "n =10", "f": 23}]},
          "mark": {"type": "text", "align": "left", "baseline": "middle", "color": "#000000", "font": "Liberation Sans"},
          "encoding": {
            "x": {"field": "x", "type": "quantitative", "scale": {"type": "log", "domain": [0.01, 1000], "nice": false},
              "axis": {"orient": "top", "values": [0.01,0.02,0.03,0.04,0.05,0.06,0.07,0.08,0.09,0.1,0.2,0.3,0.4,0.5,0.6,0.7,0.8,0.9,1,2,3,4,5,6,7,8,9,10,20,30,40,50,60,70,80,90,100,200,300,400,500,600,700,800,900,1000], "labels": false, "grid": false, "title": null,
                "tickSize": {"condition": {"test": "abs(log(datum.value)/LN10-round(log(datum.value)/LN10))<0.001", "value": -8}, "value": -4}}},
            "y": {"field": "y", "type": "quantitative", "scale": {"type": "log", "domain": [0.005, 10], "nice": false},
              "axis": {"orient": "right", "values": [0.005,0.006,0.007,0.008,0.009,0.01,0.02,0.03,0.04,0.05,0.06,0.07,0.08,0.09,0.1,0.2,0.3,0.4,0.5,0.6,0.7,0.8,0.9,1,2,3,4,5,6,7,8,9,10], "labels": false, "grid": false, "title": null,
                "tickSize": {"condition": {"test": "abs(log(datum.value)/LN10-round(log(datum.value)/LN10))<0.001", "value": -8}, "value": -4}}},
            "text": {"field": "t"},
            "size": {"field": "f", "type": "quantitative", "scale": null}
          }
        },
        {
          "data": {"values": [{"x": 1, "y": 1}]},
          "mark": {"type": "point", "opacity": 0},
          "encoding": {
            "x": {"field": "x", "type": "quantitative", "scale": {"type": "log", "domain": [0.01, 1000], "nice": false},
              "axis": {"orient": "bottom", "values": [0.01, 0.1, 1, 10, 100, 1000], "labelExpr": "['−3','−2','−1','0','1','2','3'][round(log(datum.value)/LN10)+3]",
                "labelFontSize": 14, "labelAlign": "left", "labelBaseline": "alphabetic", "labelOffset": 3, "labelPadding": 28,
                "ticks": true, "tickSize": 0, "tickOpacity": 0, "domain": false, "grid": false, "title": null}},
            "y": {"field": "y", "type": "quantitative", "scale": {"type": "log", "domain": [0.005, 10], "nice": false},
              "axis": {"orient": "left", "values": [0.01, 0.1, 1, 10], "labelExpr": "['−3','−2','−1','0','1','2','3'][round(log(datum.value)/LN10)+3]",
                "labelFontSize": 14, "labelAlign": "right", "labelBaseline": "middle", "labelOffset": -2, "labelPadding": 7,
                "ticks": true, "tickSize": 0, "tickOpacity": 0, "domain": false, "grid": false, "title": null}}
          }
        }
      ],
      "resolve": {"axis": {"x": "independent", "y": "independent"}}
    },
    {
      "width": 739, "height": 354,
      "title": {"text": "(b)", "orient": "bottom", "font": "DejaVu Serif", "fontSize": 21, "fontWeight": "normal", "color": "#000000", "offset": 17},
      "layer": [
        {
          "data": {"name": "b"},
          "mark": {"type": "line", "clip": true, "strokeWidth": 1.7},
          "encoding": {
            "x": {"field": "x", "type": "quantitative", "scale": {"type": "log", "domain": [0.01, 1000], "nice": false},
              "axis": {"orient": "bottom", "values": [0.01,0.02,0.03,0.04,0.05,0.06,0.07,0.08,0.09,0.1,0.2,0.3,0.4,0.5,0.6,0.7,0.8,0.9,1,2,3,4,5,6,7,8,9,10,20,30,40,50,60,70,80,90,100,200,300,400,500,600,700,800,900,1000],
                "labelExpr": "abs(log(datum.value)/LN10-round(log(datum.value)/LN10))<0.001 ? '10' : ''",
                "labelAlign": "right", "labelBaseline": "alphabetic", "labelOffset": 2, "labelPadding": 44,
                "grid": true,
                "gridColor": {"condition": {"test": "abs(log(datum.value)/LN10-round(log(datum.value)/LN10))<0.001", "value": "#dcdcdc"}, "value": "#e2e2e2"},
                "gridDash": {"condition": {"test": "abs(log(datum.value)/LN10-round(log(datum.value)/LN10))<0.001", "value": []}, "value": [1, 2]},
                "tickSize": {"condition": {"test": "abs(log(datum.value)/LN10-round(log(datum.value)/LN10))<0.001", "value": -8}, "value": -4},
                "title": "SINR Threshold, γ", "titlePadding": 4}},
            "y": {"field": "y", "type": "quantitative", "scale": {"type": "log", "domain": [0.005, 10], "nice": false},
              "axis": {"orient": "left", "values": [0.005,0.006,0.007,0.008,0.009,0.01,0.02,0.03,0.04,0.05,0.06,0.07,0.08,0.09,0.1,0.2,0.3,0.4,0.5,0.6,0.7,0.8,0.9,1,2,3,4,5,6,7,8,9,10],
                "labelExpr": "abs(log(datum.value)/LN10-round(log(datum.value)/LN10))<0.001 ? '10' : ''",
                "labelAlign": "right", "labelBaseline": "middle", "labelOffset": 6,
                "labelPadding": {"condition": {"test": "datum.value < 0.5", "value": 33}, "value": 26},
                "grid": true,
                "gridColor": {"condition": {"test": "abs(log(datum.value)/LN10-round(log(datum.value)/LN10))<0.001", "value": "#dcdcdc"}, "value": "#e2e2e2"},
                "gridDash": {"condition": {"test": "abs(log(datum.value)/LN10-round(log(datum.value)/LN10))<0.001", "value": []}, "value": [1, 2]},
                "tickSize": {"condition": {"test": "abs(log(datum.value)/LN10-round(log(datum.value)/LN10))<0.001", "value": -8}, "value": -4},
                "title": "E[AoI] (sec)", "titlePadding": 3}},
            "color": {"field": "s", "type": "nominal", "legend": null,
              "scale": {"domain": ["c","s01","s02","s03","s04","s05","s06","s07","s08","s09","s10"], "range": ["#EDB120","#0072BD","#D95319","#EDB120","#7E2F8E","#77AC30","#4DBEEE","#A2142F","#0072BD","#D95319","#EDB120"]}},
            "detail": {"field": "g", "type": "nominal"}
          }
        },
        {
          "data": {"values": [{"x": 0.02, "y": 1.93, "t": "CSMA With SIC", "f": 22}, {"x": 331, "y": 3.36, "t": "n =10", "f": 23}]},
          "mark": {"type": "text", "align": "left", "baseline": "middle", "color": "#000000", "font": "Liberation Sans"},
          "encoding": {
            "x": {"field": "x", "type": "quantitative", "scale": {"type": "log", "domain": [0.01, 1000], "nice": false},
              "axis": {"orient": "top", "values": [0.01,0.02,0.03,0.04,0.05,0.06,0.07,0.08,0.09,0.1,0.2,0.3,0.4,0.5,0.6,0.7,0.8,0.9,1,2,3,4,5,6,7,8,9,10,20,30,40,50,60,70,80,90,100,200,300,400,500,600,700,800,900,1000], "labels": false, "grid": false, "title": null,
                "tickSize": {"condition": {"test": "abs(log(datum.value)/LN10-round(log(datum.value)/LN10))<0.001", "value": -8}, "value": -4}}},
            "y": {"field": "y", "type": "quantitative", "scale": {"type": "log", "domain": [0.005, 10], "nice": false},
              "axis": {"orient": "right", "values": [0.005,0.006,0.007,0.008,0.009,0.01,0.02,0.03,0.04,0.05,0.06,0.07,0.08,0.09,0.1,0.2,0.3,0.4,0.5,0.6,0.7,0.8,0.9,1,2,3,4,5,6,7,8,9,10], "labels": false, "grid": false, "title": null,
                "tickSize": {"condition": {"test": "abs(log(datum.value)/LN10-round(log(datum.value)/LN10))<0.001", "value": -8}, "value": -4}}},
            "text": {"field": "t"},
            "size": {"field": "f", "type": "quantitative", "scale": null}
          }
        },
        {
          "data": {"values": [{"x": 1, "y": 1}]},
          "mark": {"type": "point", "opacity": 0},
          "encoding": {
            "x": {"field": "x", "type": "quantitative", "scale": {"type": "log", "domain": [0.01, 1000], "nice": false},
              "axis": {"orient": "bottom", "values": [0.01, 0.1, 1, 10, 100, 1000], "labelExpr": "['−3','−2','−1','0','1','2','3'][round(log(datum.value)/LN10)+3]",
                "labelFontSize": 14, "labelAlign": "left", "labelBaseline": "alphabetic", "labelOffset": 3, "labelPadding": 28,
                "ticks": true, "tickSize": 0, "tickOpacity": 0, "domain": false, "grid": false, "title": null}},
            "y": {"field": "y", "type": "quantitative", "scale": {"type": "log", "domain": [0.005, 10], "nice": false},
              "axis": {"orient": "left", "values": [0.01, 0.1, 1, 10], "labelExpr": "['−3','−2','−1','0','1','2','3'][round(log(datum.value)/LN10)+3]",
                "labelFontSize": 14, "labelAlign": "right", "labelBaseline": "middle", "labelOffset": -2, "labelPadding": 7,
                "ticks": true, "tickSize": 0, "tickOpacity": 0, "domain": false, "grid": false, "title": null}}
          }
        }
      ],
      "resolve": {"axis": {"x": "independent", "y": "independent"}}
    }
  ]
}
